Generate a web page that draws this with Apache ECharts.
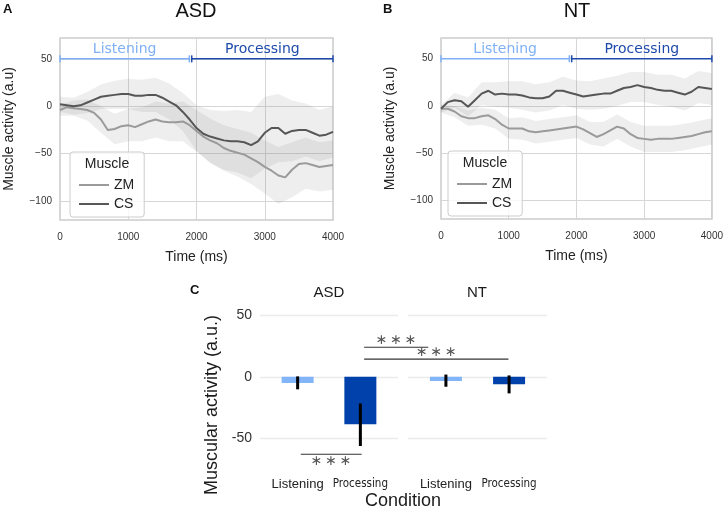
<!DOCTYPE html>
<html>
<head>
<meta charset="utf-8">
<script src="https://cdn.jsdelivr.net/npm/echarts@6/dist/echarts.min.js"></script>
<style>
html, body { margin: 0; padding: 0; background: #fff; }
#main { width: 726px; height: 510px; }
</style>
</head>
<body>
<div id="main"></div>
<script>
// time axis (ms) for the mean traces
var times = [0,100,200,300,400,500,600,700,800,900,1000,1100,1200,1300,1400,1500,1600,1700,1800,1900,2000,
	2100,2200,2300,2400,2500,2600,2700,2800,2900,3000,3100,3200,3300,3400,3500,3600,3700,3800,3900,4000];
// ASD group
var asdZM = [-4,-1,-2,-3,-4,-7,-14,-25,-24,-21,-20,-22,-19,-16,-14,-16,-17,-17,-16,-20,-26,
	-32,-36,-39,-44,-47,-49,-51,-55,-59,-64,-68,-73,-75,-67,-61,-60,-62,-64,-63,-62];
var asdCS = [2,1,0,1,4,7,10,11,12,13,13,11,11,12,12,9,5,1,-6,-14,-23,
	-29,-32,-34,-36,-37,-37,-38,-41,-37,-28,-23,-23,-29,-26,-25,-25,-28,-31,-30,-27];
// NT group
var ntZM = [-3,-3,-6,-11,-13,-13,-11,-10,-14,-20,-24,-24,-24,-27,-28,-27,-26,-25,-24,-23,-22,
	-25,-29,-33,-30,-26,-22,-24,-30,-34,-35,-36,-35,-35,-35,-34,-33,-32,-30,-28,-27];
var ntCS = [-3,4,6,5,-1,6,13,16,12,13,12,12,11,9,8,8,10,16,16,14,12,
	10,11,12,13,13,16,19,20,22,20,19,17,16,16,14,12,15,20,19,18];

// confidence band half widths, read every 200 ms
var bandTimes = [0,200,400,600,800,1000,1200,1400,1600,1800,2000,2200,2400,2600,2800,3000,3200,3400,3600,3800,4000];
var asdZMhw = [6,8,11,14,16,17,18,19,20,21,22,23,24,25,27,28,30,29,27,26,26];
var asdCShw = [8,9,11,13,15,16,17,18,19,20,24,28,31,33,35,38,36,32,28,27,27];
var ntZMhw = [4,6,8,9,10,11,12,12,12,12,12,12,13,13,13,14,14,14,14,14,14];
var ntCShw = [4,8,10,12,13,14,15,15,15,15,15,15,16,16,16,16,16,17,17,17,17];

// phases drawn above the traces
var phaseNames = ['Listening', 'Processing'];
var phaseStart = [0, 1930];
var phaseEnd = [1895, 4000];
var phaseLevel = 50;
var yTicksTop = [-100, -50, 0, 50];

// panel C
var condLabels = ['Listening', 'Processing'];
var asdBar = [-5, -38.7];
var asdErrLo = [-10.2, -56.3];
var asdErrHi = [0.3, -21.7];
var ntBar = [-3.5, -6];
var ntErrLo = [-8.1, -13.5];
var ntErrHi = [1.8, 1.1];
var yTicksBar = [-50, 0, 50];
// significance brackets: from (grid, x) to (grid, x) at level y
var sigFromGrid = [2, 2, 2];
var sigFromX = [2.06, 2.06, 1.05];
var sigToGrid = [3, 3, 2];
var sigToX = [0.72, 1.99, 2.02];
var sigY = [24, 14.4, -63];
var sigSide = [-1, -1, 1];

var lightBlue = '#82b4f8';
var darkBlue = '#0041ab';
var phaseColors = ['#7fb0f5', '#1e4bab'];
var zmColor = '#9a9a9a';
var csColor = '#565656';

function pairs(xs, ys) {
	var out = [];
	for (var i = 0; i < xs.length; i++) out.push([xs[i], ys[i]]);
	return out;
}

function bandRenderer(line, hw) {
	return function (params, api) {
		var up = [], dn = [];
		for (var i = 0; i < bandTimes.length; i++) {
			var m = line[times.indexOf(bandTimes[i])];
			up.push(api.coord([bandTimes[i], m + hw[i]]));
			dn.unshift(api.coord([bandTimes[i], m - hw[i]]));
		}
		return {
			type : 'polygon',
			shape : { points : up.concat(dn) },
			style : { fill : 'rgba(120,120,120,0.13)' },
			silent : true
		};
	};
}

function renderPhase(params, api) {
	var i = params.dataIndex;
	var a = api.coord([api.value(0), api.value(2)]);
	var b = api.coord([api.value(1), api.value(2)]);
	var c = phaseColors[i];
	return {
		type : 'group',
		children : [
			{ type : 'line', shape : { x1 : a[0], y1 : a[1], x2 : b[0], y2 : b[1] }, style : { stroke : c, lineWidth : 1.5 } },
			{ type : 'line', shape : { x1 : a[0], y1 : a[1] - 3.5, x2 : a[0], y2 : a[1] + 3.5 }, style : { stroke : c, lineWidth : 1.5 } },
			{ type : 'line', shape : { x1 : b[0], y1 : b[1] - 3.5, x2 : b[0], y2 : b[1] + 3.5 }, style : { stroke : c, lineWidth : 1.5 } },
			{ type : 'text', x : (a[0] + b[0]) / 2, y : a[1] - 9,
				style : { text : phaseNames[i], fill : c, font : '14px "DejaVu Sans"', align : 'center', verticalAlign : 'middle' } }
		]
	};
}

function renderErr(params, api) {
	var p1 = api.coord([api.value(0), api.value(1)]);
	var p2 = api.coord([api.value(0), api.value(2)]);
	return { type : 'line', shape : { x1 : p1[0], y1 : p1[1], x2 : p2[0], y2 : p2[1] }, style : { stroke : '#000', lineWidth : 3 } };
}

function timeGrid(idx) {
	return {
		xAxis : {
			type : 'value', gridIndex : idx, min : 0, max : 4000, interval : 1000,
			axisLine : { show : false }, axisTick : { show : false },
			axisLabel : { fontSize : 10, color : '#333', margin : 12, fontFamily : 'Liberation Sans',
				formatter : function (v) { return String(v); } },
			splitLine : { lineStyle : { color : '#d6d6d6', width : 1 } },
			name : 'Time (ms)', nameLocation : 'middle', nameGap : 30,
			nameTextStyle : { fontSize : 14, color : '#222', fontFamily : 'Liberation Sans' }
		},
		yAxis : {
			type : 'value', gridIndex : idx, min : -120, max : 72,
			axisLine : { show : false },
			axisTick : { show : false, customValues : yTicksTop },
			axisLabel : { fontSize : 10, color : '#333', margin : 8, fontFamily : 'Liberation Sans', customValues : yTicksTop,
				formatter : function (v) { return String(v).replace('-', '\u2212'); } },
			splitLine : { lineStyle : { color : '#d6d6d6', width : 1 } },
			name : 'Muscle activity (a.u)', nameLocation : 'middle', nameGap : 44,
			nameTextStyle : { fontSize : 14, color : '#222', fontFamily : 'Liberation Sans' }
		}
	};
}

function barAxes(idx, showY) {
	return {
		xAxis : {
			type : 'value', gridIndex : idx, min : 0.4, max : 2.6,
			axisLine : { show : false }, axisTick : { show : false }, splitLine : { show : false },
			axisLabel : {
				customValues : [1, 2], margin : 9, color : '#222',
				formatter : function (v) { return '{c' + (v - 1) + '|' + condLabels[v - 1] + '}'; },
				rich : {
					c0 : { fontSize : 13, fontFamily : 'Liberation Sans', color : '#222' },
					c1 : { fontSize : 11.5, fontFamily : '"Liberation Sans Narrow", "DejaVu Sans Condensed", sans-serif', color : '#222' }
				}
			}
		},
		yAxis : {
			type : 'value', gridIndex : idx, min : -75, max : 60,
			axisLine : { show : false },
			axisTick : { show : false, customValues : yTicksBar },
			axisLabel : { show : showY, customValues : yTicksBar, fontSize : 14, color : '#333', margin : 8, fontFamily : 'Liberation Sans' },
			splitLine : { lineStyle : { color : '#ebebeb', width : 1.3 } }
		}
	};
}

var gA = timeGrid(0), gB = timeGrid(1), gC1 = barAxes(2, true), gC2 = barAxes(3, false);

var legendBase = {
	orient : 'vertical', data : ['ZM', 'CS'], itemWidth : 30, itemHeight : 14, itemGap : 5,
	padding : [26, 10, 6, 8], borderColor : '#cccccc', borderWidth : 1, borderRadius : 3,
	backgroundColor : 'rgba(255,255,255,0.8)', selectedMode : false,
	itemStyle : { opacity : 0 },
	textStyle : { fontSize : 14, color : '#222', fontFamily : 'Liberation Sans' }
};

var option = {
	animation : false,
	backgroundColor : '#fff',
	title : [
		{ text : 'A', left : 3, top : 3, padding : 0, textStyle : { fontSize : 13, fontWeight : 'bold', color : '#111', fontFamily : 'Liberation Sans' } },
		{ text : 'ASD', left : 196, top : 1, padding : 0, textAlign : 'center', textStyle : { fontSize : 20, fontWeight : 'normal', color : '#111', fontFamily : 'Liberation Sans' } },
		{ text : 'B', left : 383, top : 3, padding : 0, textStyle : { fontSize : 13, fontWeight : 'bold', color : '#111', fontFamily : 'Liberation Sans' } },
		{ text : 'NT', left : 577, top : 1, padding : 0, textAlign : 'center', textStyle : { fontSize : 20, fontWeight : 'normal', color : '#111', fontFamily : 'Liberation Sans' } },
		{ text : 'C', left : 190, top : 284, padding : 0, textStyle : { fontSize : 13, fontWeight : 'bold', color : '#111', fontFamily : 'Liberation Sans' } },
		{ text : 'ASD', left : 329, top : 285, padding : 0, textAlign : 'center', textStyle : { fontSize : 15, fontWeight : 'normal', color : '#1a1a1a', fontFamily : 'Liberation Sans' } },
		{ text : 'NT', left : 477, top : 285, padding : 0, textAlign : 'center', textStyle : { fontSize : 15, fontWeight : 'normal', color : '#1a1a1a', fontFamily : 'Liberation Sans' } }
	],
	legend : [
		Object.assign({ left : 70, top : 152 }, legendBase),
		Object.assign({ left : 448, top : 151 }, legendBase)
	],
	grid : [
		{ left : 60, top : 38, width : 273, height : 182, show : true, borderColor : '#cccccc', borderWidth : 1.5, backgroundColor : 'transparent' },
		{ left : 441, top : 38, width : 272, height : 181, show : true, borderColor : '#cccccc', borderWidth : 1.5, backgroundColor : 'transparent' },
		{ left : 260, top : 303, width : 138, height : 166 },
		{ left : 408, top : 303, width : 139, height : 166 }
	],
	xAxis : [gA.xAxis, gB.xAxis, gC1.xAxis, gC2.xAxis],
	yAxis : [gA.yAxis, gB.yAxis, gC1.yAxis, gC2.yAxis],
	series : [
		{ type : 'custom', xAxisIndex : 0, yAxisIndex : 0, data : [[0, 0]], renderItem : bandRenderer(asdZM, asdZMhw), z : 1 },
		{ type : 'custom', xAxisIndex : 0, yAxisIndex : 0, data : [[0, 0]], renderItem : bandRenderer(asdCS, asdCShw), z : 1 },
		{ type : 'line', name : 'ZM', xAxisIndex : 0, yAxisIndex : 0, data : pairs(times, asdZM), symbol : 'none', lineStyle : { color : zmColor, width : 2 }, itemStyle : { color : zmColor }, z : 3 },
		{ type : 'line', name : 'CS', xAxisIndex : 0, yAxisIndex : 0, data : pairs(times, asdCS), symbol : 'none', lineStyle : { color : csColor, width : 2 }, itemStyle : { color : csColor }, z : 3 },
		{ type : 'custom', xAxisIndex : 0, yAxisIndex : 0, data : [[phaseStart[0], phaseEnd[0], phaseLevel], [phaseStart[1], phaseEnd[1], phaseLevel]], renderItem : renderPhase, z : 4 },

		{ type : 'custom', xAxisIndex : 1, yAxisIndex : 1, data : [[0, 0]], renderItem : bandRenderer(ntZM, ntZMhw), z : 1 },
		{ type : 'custom', xAxisIndex : 1, yAxisIndex : 1, data : [[0, 0]], renderItem : bandRenderer(ntCS, ntCShw), z : 1 },
		{ type : 'line', name : 'ZM', xAxisIndex : 1, yAxisIndex : 1, data : pairs(times, ntZM), symbol : 'none', lineStyle : { color : zmColor, width : 2 }, itemStyle : { color : zmColor }, z : 3 },
		{ type : 'line', name : 'CS', xAxisIndex : 1, yAxisIndex : 1, data : pairs(times, ntCS), symbol : 'none', lineStyle : { color : csColor, width : 2 }, itemStyle : { color : csColor }, z : 3 },
		{ type : 'custom', xAxisIndex : 1, yAxisIndex : 1, data : [[phaseStart[0], phaseEnd[0], phaseLevel], [phaseStart[1], phaseEnd[1], phaseLevel]], renderItem : renderPhase, z : 4 },

		{ type : 'bar', xAxisIndex : 2, yAxisIndex : 2, barWidth : 32,
			data : [{ value : [1, asdBar[0]], itemStyle : { color : lightBlue } }, { value : [2, asdBar[1]], itemStyle : { color : darkBlue } }] },
		{ type : 'custom', xAxisIndex : 2, yAxisIndex : 2, data : [[1, asdErrLo[0], asdErrHi[0]], [2, asdErrLo[1], asdErrHi[1]]], renderItem : renderErr, z : 5 },
		{ type : 'bar', xAxisIndex : 3, yAxisIndex : 3, barWidth : 32,
			data : [{ value : [1, ntBar[0]], itemStyle : { color : lightBlue } }, { value : [2, ntBar[1]], itemStyle : { color : darkBlue } }] },
		{ type : 'custom', xAxisIndex : 3, yAxisIndex : 3, data : [[1, ntErrLo[0], ntErrHi[0]], [2, ntErrLo[1], ntErrHi[1]]], renderItem : renderErr, z : 5 }
	]
};

var myChart = echarts.init(document.getElementById('main'));
myChart.setOption(option);

// static labels and the significance brackets (placed through the grids' scales)
var graphics = [
	{ type : 'text', x : 107, y : 164, z : 100, style : { text : 'Muscle', font : '14px "Liberation Sans"', fill : '#222', align : 'center', verticalAlign : 'middle' } },
	{ type : 'text', x : 485, y : 163, z : 100, style : { text : 'Muscle', font : '14px "Liberation Sans"', fill : '#222', align : 'center', verticalAlign : 'middle' } },
	{ type : 'text', x : 212, y : 405, rotation : Math.PI / 2, style : { text : 'Muscular activity (a.u.)', font : '18px "Liberation Sans"', fill : '#1a1a1a', align : 'center', verticalAlign : 'middle' } },
	{ type : 'text', x : 403, y : 501, style : { text : 'Condition', font : '18px "Liberation Sans"', fill : '#1a1a1a', align : 'center', verticalAlign : 'middle' } }
];
for (var i = 0; i < sigY.length; i++) {
	var p1 = myChart.convertToPixel({ gridIndex : sigFromGrid[i] }, [sigFromX[i], sigY[i]]);
	var p2 = myChart.convertToPixel({ gridIndex : sigToGrid[i] }, [sigToX[i], sigY[i]]);
	graphics.push({ type : 'line', shape : { x1 : p1[0], y1 : p1[1], x2 : p2[0], y2 : p2[1] }, style : { stroke : '#333', lineWidth : 1.2 } });
	graphics.push({ type : 'text', x : (p1[0] + p2[0]) / 2, y : p1[1] + sigSide[i] * 7,
		style : { text : '\u2217\u2009\u2217\u2009\u2217', font : '14px "DejaVu Sans"', fill : '#555', align : 'center', verticalAlign : 'middle' } });
}
myChart.setOption({ graphic : graphics });
</script>
</body>
</html>
